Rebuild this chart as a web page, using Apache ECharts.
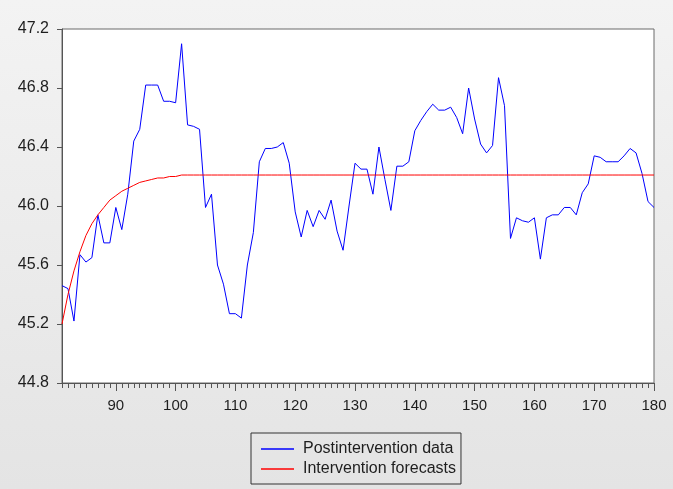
<!DOCTYPE html>
<html>
<head>
<meta charset="utf-8">
<script src="https://cdn.jsdelivr.net/npm/echarts@6/dist/echarts.min.js"></script>
<style>
  html, body { margin: 0; padding: 0; }
  #chart { width: 673px; height: 489px; }
</style>
</head>
<body>
<div id="chart"></div>
<script>
// Observation index 81..180
const periods = [
  81, 82, 83, 84, 85, 86, 87, 88, 89, 90,
  91, 92, 93, 94, 95, 96, 97, 98, 99, 100,
  101, 102, 103, 104, 105, 106, 107, 108, 109, 110,
  111, 112, 113, 114, 115, 116, 117, 118, 119, 120,
  121, 122, 123, 124, 125, 126, 127, 128, 129, 130,
  131, 132, 133, 134, 135, 136, 137, 138, 139, 140,
  141, 142, 143, 144, 145, 146, 147, 148, 149, 150,
  151, 152, 153, 154, 155, 156, 157, 158, 159, 160,
  161, 162, 163, 164, 165, 166, 167, 168, 169, 170,
  171, 172, 173, 174, 175, 176, 177, 178, 179, 180
];

// Observed series after the intervention
const postinterventionData = [
  45.46, 45.44, 45.22, 45.67, 45.62, 45.65, 45.94, 45.75, 45.75, 45.99,
  45.84, 46.08, 46.44, 46.52, 46.82, 46.82, 46.82, 46.71, 46.71, 46.70,
  47.10, 46.55, 46.54, 46.52, 45.99, 46.08, 45.60, 45.47, 45.27, 45.27,
  45.24, 45.60, 45.82, 46.30, 46.39, 46.39, 46.40, 46.43, 46.29, 45.96,
  45.79, 45.97, 45.86, 45.97, 45.91, 46.04, 45.83, 45.70, 46.00, 46.29,
  46.25, 46.25, 46.08, 46.40, 46.18, 45.97, 46.27, 46.27, 46.30, 46.51,
  46.58, 46.64, 46.69, 46.65, 46.65, 46.67, 46.60, 46.49, 46.80, 46.59,
  46.42, 46.36, 46.41, 46.87, 46.68, 45.78, 45.92, 45.90, 45.89, 45.92,
  45.64, 45.92, 45.94, 45.94, 45.99, 45.99, 45.94, 46.09, 46.15, 46.34,
  46.33, 46.30, 46.30, 46.30, 46.34, 46.39, 46.36, 46.22, 46.03, 45.99
];

// Model forecasts including the intervention effect
const interventionForecasts = [
  45.20, 45.40, 45.56, 45.69, 45.80, 45.88, 45.94, 45.99, 46.04, 46.07,
  46.10, 46.12, 46.14, 46.16, 46.17, 46.18, 46.19, 46.19, 46.20, 46.20,
  46.21, 46.21, 46.21, 46.21, 46.21, 46.21, 46.21, 46.21, 46.21, 46.21,
  46.21, 46.21, 46.21, 46.21, 46.21, 46.21, 46.21, 46.21, 46.21, 46.21,
  46.21, 46.21, 46.21, 46.21, 46.21, 46.21, 46.21, 46.21, 46.21, 46.21,
  46.21, 46.21, 46.21, 46.21, 46.21, 46.21, 46.21, 46.21, 46.21, 46.21,
  46.21, 46.21, 46.21, 46.21, 46.21, 46.21, 46.21, 46.21, 46.21, 46.21,
  46.21, 46.21, 46.21, 46.21, 46.21, 46.21, 46.21, 46.21, 46.21, 46.21,
  46.21, 46.21, 46.21, 46.21, 46.21, 46.21, 46.21, 46.21, 46.21, 46.21,
  46.21, 46.21, 46.21, 46.21, 46.21, 46.21, 46.21, 46.21, 46.21, 46.21
];

const seriesNames = ['Postintervention data', 'Intervention forecasts'];
const yTicks = { min: 44.8, max: 47.2, step: 0.4 };

const chart = echarts.init(document.getElementById('chart'), null, { renderer: 'canvas' });
const fontFamily = 'Arial, "Liberation Sans", sans-serif';
const axisColor = '#555555';
const textColor = '#1e1e1e';

const isMajor = (idx, val) => Number(val) % 10 === 0;

chart.setOption({
  animation: false,
  backgroundColor: {
    type: 'linear', x: 0, y: 0, x2: 0, y2: 1,
    colorStops: [
      { offset: 0, color: '#f3f3f3' },
      { offset: 1, color: '#e4e4e4' }
    ]
  },
  grid: {
    left: 62, top: 29, right: 19, bottom: 106,
    show: true,
    backgroundColor: '#ffffff',
    borderColor: '#6a6a6a',
    borderWidth: 1
  },
  xAxis: [
    {
      type: 'category',
      data: periods,
      boundaryGap: false,
      axisLine: { lineStyle: { color: axisColor } },
      axisTick: { show: true, interval: 0, length: 5, lineStyle: { color: axisColor } },
      axisLabel: {
        interval: isMajor,
        color: textColor,
        fontSize: 15,
        fontFamily,
        margin: 15
      },
      splitLine: { show: false }
    },
    {
      // longer ticks at every tenth observation
      type: 'category',
      data: periods,
      position: 'bottom',
      boundaryGap: false,
      axisLine: { show: false },
      axisTick: { show: true, interval: isMajor, length: 8, lineStyle: { color: axisColor } },
      axisLabel: { show: false },
      splitLine: { show: false }
    }
  ],
  yAxis: {
    type: 'value',
    min: yTicks.min,
    max: yTicks.max,
    interval: yTicks.step,
    axisLine: { show: true, lineStyle: { color: axisColor } },
    axisTick: { show: true, length: 5, lineStyle: { color: axisColor } },
    axisLabel: {
      color: textColor,
      fontSize: 16,
      fontFamily,
      margin: 13,
      formatter: v => v.toFixed(1)
    },
    splitLine: { show: false }
  },
  legend: {
    data: seriesNames,
    orient: 'vertical',
    left: 251,
    top: 433,
    icon: 'rect',
    itemWidth: 33,
    itemHeight: 1.5,
    itemGap: 4,
    padding: [8, 5, 7, 10],
    borderColor: '#333333',
    borderWidth: 1,
    backgroundColor: 'rgba(0,0,0,0)',
    textStyle: { color: textColor, fontSize: 16, fontFamily, padding: [0, 0, 0, 4] }
  },
  series: [
    {
      name: seriesNames[0],
      type: 'line',
      data: postinterventionData,
      symbol: 'none',
      lineStyle: { color: '#0000ff', width: 1 },
      itemStyle: { color: '#0000ff' },
      z: 2
    },
    {
      name: seriesNames[1],
      type: 'line',
      data: interventionForecasts,
      symbol: 'none',
      lineStyle: { color: '#ff0000', width: 1 },
      itemStyle: { color: '#ff0000' },
      z: 3
    }
  ]
});
</script>
</body>
</html>
